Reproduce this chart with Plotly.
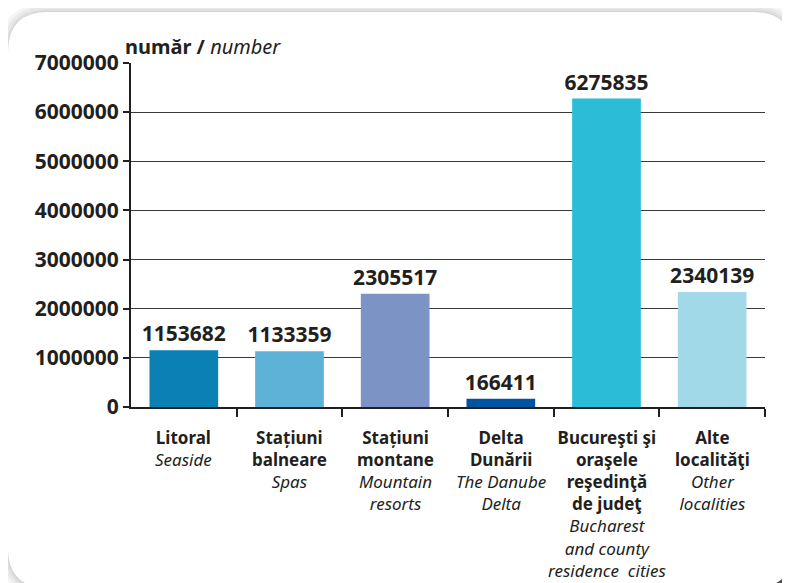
import plotly.graph_objects as go

# Data
cat_ro = [
    ["Litoral"],
    ["Stațiuni", "balneare"],
    ["Stațiuni", "montane"],
    ["Delta", "Dunării"],
    ["Bucureşti şi", "oraşele", "reşedinţă", "de judeţ"],
    ["Alte", "localităţi"],
]
cat_en = [
    ["Seaside"],
    ["Spas"],
    ["Mountain", "resorts"],
    ["The Danube", "Delta"],
    ["Bucharest", "and county", "residence  cities"],
    ["Other", "localities"],
]
values = [1153682, 1133359, 2305517, 166411, 6275835, 2340139]
bar_colors = ["#0a80b4", "#5fb2d7", "#7b93c5", "#0155a0", "#2bbcd8", "#a2d9e8"]
y_ticks = [0, 1000000, 2000000, 3000000, 4000000, 5000000, 6000000, 7000000]

INK = "#231f20"
FONT = "Noto Sans"

# the page body has an 8px margin, so the figure sits at (8, 8) in the window
OFF = 8
W, H = 782, 575
ML, MR, MT, MB = 123, 25, 55, 176
PW, PH = W - ML - MR, H - MT - MB


def px(x):
    """window pixel x -> paper fraction"""
    return (x - OFF - ML) / PW


def py(y):
    """window pixel y -> paper fraction"""
    return (H - MB - (y - OFF)) / PH


def rounded_rect(x0, y0, x1, y1, r):
    pts = [
        ("M", [(x0 + r, y0)]),
        ("L", [(x1 - r, y0)]),
        ("Q", [(x1, y0), (x1, y0 + r)]),
        ("L", [(x1, y1 - r)]),
        ("Q", [(x1, y1), (x1 - r, y1)]),
        ("L", [(x0 + r, y1)]),
        ("Q", [(x0, y1), (x0, y1 - r)]),
        ("L", [(x0, y0 + r)]),
        ("Q", [(x0, y0), (x0 + r, y0)]),
    ]
    out = []
    for cmd, ps in pts:
        out.append(cmd + " " + " ".join(f"{px(a):.5f},{py(b):.5f}" for a, b in ps))
    return " ".join(out) + " Z"


x_idx = list(range(len(values)))

fig = go.Figure()
fig.add_trace(go.Bar(
    x=x_idx, y=values, width=0.65,
    marker=dict(color=bar_colors, line=dict(width=0)),
    text=[f"<b>{v}</b>" for v in values], textposition="outside",
    constraintext="none",
    textfont=dict(family=FONT, size=21, color=INK),
    cliponaxis=False, hoverinfo="skip",
))

# frame with shadow
shapes = []
fx0, fy0, fx1, fy1, fr = 8, 12, 793, 588, 40
for g in [10, 7, 4, 2]:
    shapes.append(dict(type="path", xref="paper", yref="paper", layer="below",
                       path=rounded_rect(fx0 - g + 1, fy0 - g + 1, fx1 + g, fy1 + g, fr + g),
                       fillcolor="rgba(0,0,0,0.045)", line=dict(width=0)))
for g, a in [(6, 0.35), (3, 0.45)]:
    shapes.append(dict(type="path", xref="paper", yref="paper", layer="below",
                       path=rounded_rect(fx0 + 20, fy0 + 80, fx1 + g, fy1 + g, fr),
                       fillcolor=f"rgba(0,0,0,{a})", line=dict(width=0)))
shapes.append(dict(type="path", xref="paper", yref="paper", layer="below",
                   path=rounded_rect(fx0, fy0, fx1, fy1, fr),
                   fillcolor="#ffffff", line=dict(width=0)))

# category labels: bold Romanian lines, then italic English lines
annotations = []
for i, (ro, en) in enumerate(zip(cat_ro, cat_en)):
    lines = [f"<b>{s}</b>" for s in ro] + [f"<i>{s}</i>" for s in en]
    annotations.append(dict(
        text="<br>".join(lines), xref="x", yref="paper", x=i, y=py(425),
        xanchor="center", yanchor="top", align="center", showarrow=False,
        borderpad=0, font=dict(family=FONT, size=17, color=INK),
    ))
annotations.append(dict(
    text="<b>număr /</b> <i>number</i>", xref="paper", yref="paper",
    x=px(123), y=py(47), xanchor="left", yanchor="middle", showarrow=False,
    font=dict(family=FONT, size=20, color=INK),
))

fig.update_layout(
    width=W, height=H,
    margin=dict(l=ML, r=MR, t=MT, b=MB),
    paper_bgcolor="#ffffff", plot_bgcolor="rgba(0,0,0,0)",
    showlegend=False,
    font=dict(family=FONT, color=INK),
    shapes=shapes,
    annotations=annotations,
    xaxis=dict(
        range=[-0.5, 5.5], tickvals=[i + 0.5 for i in x_idx], showticklabels=False,
        ticks="outside", ticklen=8, tickwidth=1.5, tickcolor=INK,
        showline=True, linecolor=INK, linewidth=2, showgrid=False, zeroline=False,
    ),
    yaxis=dict(
        range=[0, 7000000], tickvals=y_ticks, ticktext=[f"<b>{v}</b>" for v in y_ticks],
        tickfont=dict(family=FONT, size=21, color=INK),
        ticks="outside", ticklen=6, tickwidth=1.5, tickcolor=INK,
        showline=True, linecolor=INK, linewidth=2,
        showgrid=True, gridcolor="#3a3a3a", gridwidth=1, zeroline=False,
    ),
)

fig.write_html("out.html")
